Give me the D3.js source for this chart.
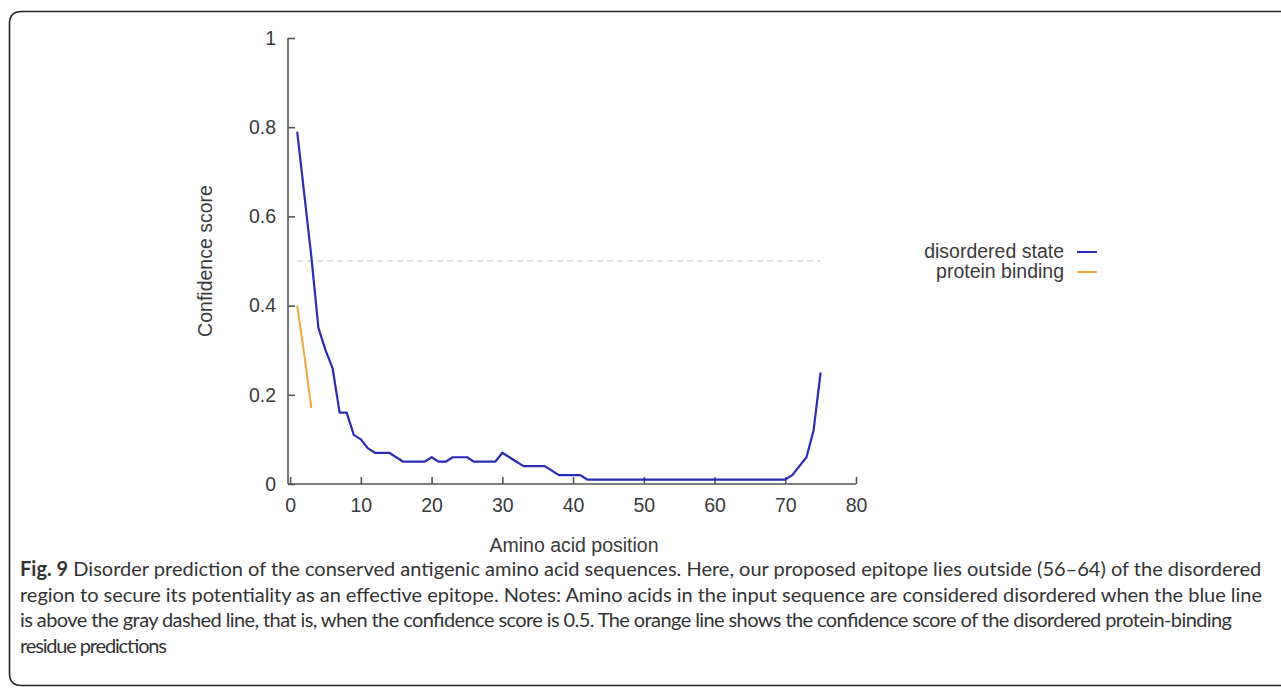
<!DOCTYPE html>
<html>
<head>
<meta charset="utf-8">
<script src="https://cdn.jsdelivr.net/npm/d3@7"></script>
<style>
  html, body { margin: 0; padding: 0; background: #fff; }
  svg { display: block; }
</style>
</head>
<body>
<svg id="chart" width="1281" height="688"></svg>
<script>
// ---- data ----
const disorderPos = d3.range(1, 76);
const disorderVals = [
  0.79, 0.65, 0.51, 0.35, 0.30, 0.26, 0.16, 0.16, 0.11, 0.10,
  0.08, 0.07, 0.07, 0.07, 0.06, 0.05, 0.05, 0.05, 0.05, 0.06,
  0.05, 0.05, 0.06, 0.06, 0.06, 0.05, 0.05, 0.05, 0.05, 0.07,
  0.06, 0.05, 0.04, 0.04, 0.04, 0.04, 0.03, 0.02, 0.02, 0.02,
  0.02, 0.01, 0.01, 0.01, 0.01, 0.01, 0.01, 0.01, 0.01, 0.01,
  0.01, 0.01, 0.01, 0.01, 0.01, 0.01, 0.01, 0.01, 0.01, 0.01,
  0.01, 0.01, 0.01, 0.01, 0.01, 0.01, 0.01, 0.01, 0.01, 0.01,
  0.02, 0.04, 0.06, 0.12, 0.25
];
const bindingPos = [1, 2, 3];
const bindingVals = [0.40, 0.29, 0.17];
const thresholdVal = 0.5;
const thresholdRange = [1, 75];
const xTicks = [0, 10, 20, 30, 40, 50, 60, 70, 80];
const yTicks = [0, 0.2, 0.4, 0.6, 0.8, 1];
const yTickLabels = ["0", "0.2", "0.4", "0.6", "0.8", "1"];
const seriesNames = ["disordered state", "protein binding"];
const seriesColors = ["#2b2bb5", "#f2a63c"];
const xTitle = "Amino acid position";
const yTitle = "Confidence score";
const captionBold = "Fig. 9";
const captionLines = [
  " Disorder prediction of the conserved antigenic amino acid sequences. Here, our proposed epitope lies outside (56\u201364) of the disordered",
  "region to secure its potentiality as an effective epitope. Notes: Amino acids in the input sequence are considered disordered when the blue line",
  "is above the gray dashed line, that is, when the confidence score is 0.5. The orange line shows the confidence score of the disordered protein-binding",
  "residue predictions"
];

// ---- layout ----
const svg = d3.select("#chart");
const axisX0 = 288, axisX1 = 856, axisY0 = 484, axisY1 = 38;
const x = d3.scaleLinear().domain([-0.3, 80]).range([axisX0, axisX1]);
const y = d3.scaleLinear().domain([0, 1]).range([axisY0, axisY1]);
const chartFont = "'Liberation Sans', Arial, sans-serif";
const chartSize = "19.5px";
const axisColor = "#555";
const textColor = "#3a3a3a";

// frame
const fx = 9.5, fy = 11.5, fb = 685.5, r = 12;
svg.append("path")
  .attr("d", `M1281,${fy} L${fx + r},${fy} Q${fx},${fy} ${fx},${fy + r} L${fx},${fb - r} Q${fx},${fb} ${fx + r},${fb} L1281,${fb}`)
  .attr("fill", "none").attr("stroke", "#222").attr("stroke-width", 1.6);

// axes
const gx = svg.append("g").attr("transform", `translate(0,${axisY0})`)
  .call(d3.axisBottom(x).tickValues(xTicks).tickSizeInner(-7).tickSizeOuter(0).tickPadding(14).tickFormat(d3.format("d")));
const gy = svg.append("g").attr("transform", `translate(${axisX0},0)`)
  .call(d3.axisLeft(y).tickValues(yTicks).tickSizeInner(-7).tickSizeOuter(0).tickPadding(12).tickFormat((d, i) => yTickLabels[i]));
[gx, gy].forEach(g => {
  g.select(".domain").attr("stroke", axisColor).attr("stroke-width", 1.6);
  g.selectAll(".tick line").attr("stroke", axisColor).attr("stroke-width", 1.6);
  g.selectAll(".tick text").attr("fill", textColor).style("font-family", chartFont).style("font-size", chartSize);
});
gy.select(".domain").attr("d", `M0,${axisY0}V${axisY1}`);
gx.select(".domain").attr("d", `M${axisX0},0H${axisX1}`);

// threshold dashed line
svg.append("line")
  .attr("x1", x(thresholdRange[0])).attr("x2", x(thresholdRange[1]))
  .attr("y1", y(thresholdVal)).attr("y2", y(thresholdVal))
  .attr("stroke", "#c4c4c4").attr("stroke-width", 1.2).attr("stroke-dasharray", "6,4");

// lines
const line = d3.line().x(d => x(d[0])).y(d => y(d[1]));
svg.append("path")
  .datum(disorderPos.map((p, i) => [p, disorderVals[i]]))
  .attr("d", line).attr("fill", "none").attr("stroke", seriesColors[0])
  .attr("stroke-width", 2.2).attr("stroke-linejoin", "round");
svg.append("path")
  .datum(bindingPos.map((p, i) => [p, bindingVals[i]]))
  .attr("d", line).attr("fill", "none").attr("stroke", seriesColors[1])
  .attr("stroke-width", 2).attr("stroke-linejoin", "round");

// axis titles
svg.append("text").attr("x", 574).attr("y", 552).attr("text-anchor", "middle")
  .attr("fill", textColor).style("font-family", chartFont).style("font-size", chartSize).text(xTitle);
svg.append("text").attr("transform", "translate(212,261) rotate(-90)").attr("text-anchor", "middle")
  .attr("fill", textColor).style("font-family", chartFont).style("font-size", chartSize).text(yTitle);

// legend
const legend = svg.append("g");
seriesNames.forEach((name, i) => {
  const ly = 252 + i * 20;
  legend.append("text").attr("x", 1064).attr("y", ly + 6).attr("text-anchor", "end")
    .attr("fill", textColor).style("font-family", chartFont).style("font-size", chartSize).text(name);
  legend.append("line").attr("x1", 1077).attr("x2", 1097).attr("y1", ly).attr("y2", ly)
    .attr("stroke", seriesColors[i]).attr("stroke-width", 2);
});

// caption
const capFont = "Lato, 'Open Sans', sans-serif";
const capWidths = [1242, 1242, 1212, 147];
const cap = svg.append("g").attr("fill", "#333").style("font-family", capFont);
const capSize0 = 17;
const capTexts = captionLines.map((t, i) => {
  const tx = cap.append("text").attr("x", 20).attr("y", 576 + i * 25.5).style("font-size", capSize0 + "px");
  if (i === 0) tx.append("tspan").attr("font-weight", "bold").text(captionBold);
  tx.append("tspan").text(t);
  return tx;
});
const w0 = capTexts[0].node().getComputedTextLength();
const capSize = capSize0 * capWidths[0] / w0;
capTexts.forEach((t, i) => {
  t.style("font-size", capSize + "px");
  const w = t.node().getComputedTextLength();
  if (Math.abs(w - capWidths[i]) > 2) t.attr("textLength", capWidths[i]).attr("lengthAdjust", "spacing");
});
</script>
</body>
</html>
